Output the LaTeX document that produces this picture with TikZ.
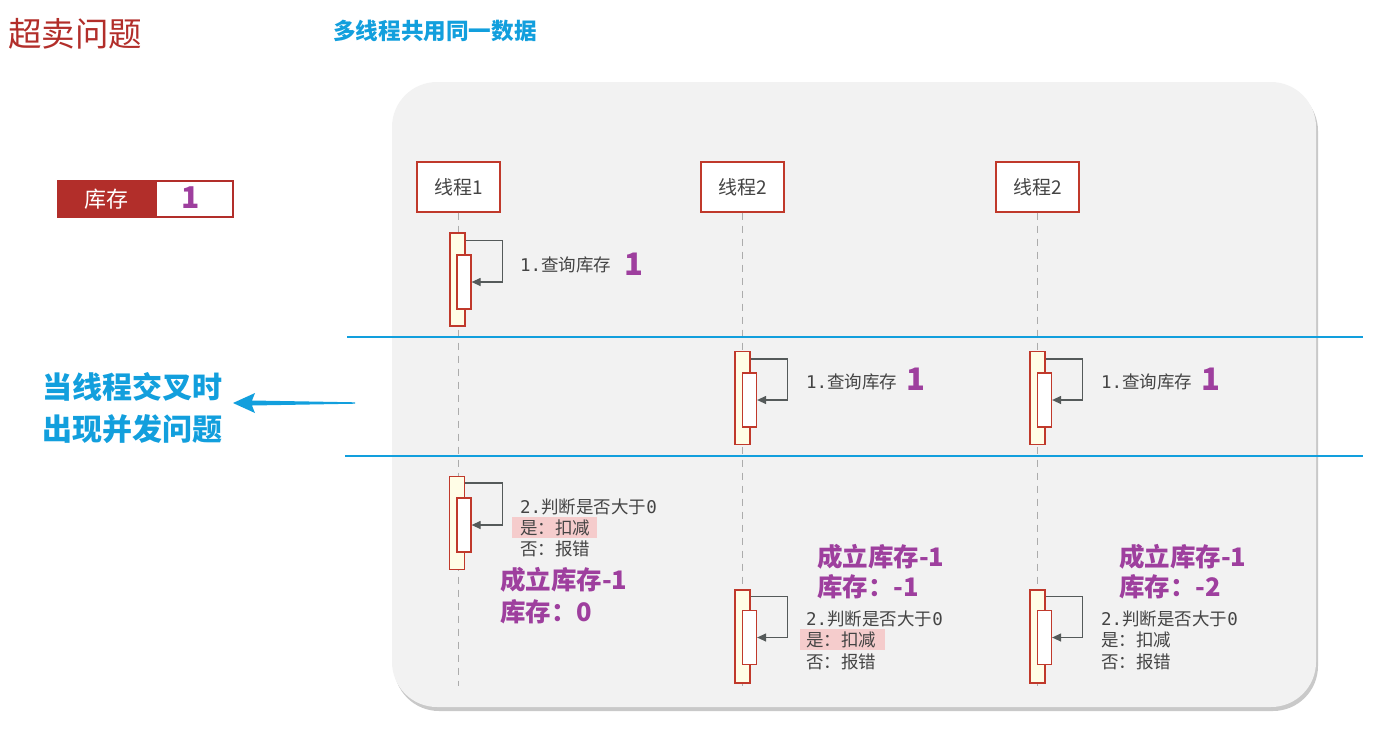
\documentclass[tikz,border=0pt]{standalone}
\usepackage{fontspec}
\setmainfont{Noto Sans CJK SC}
\newfontfamily\cjk{Noto Sans CJK SC}
\newfontfamily\monof{DejaVu Sans Mono}
\usetikzlibrary{shadows,calc,arrows.meta}
\definecolor{titlered}{HTML}{B22E2A}
\definecolor{hblue}{HTML}{129FDD}
\definecolor{linered}{HTML}{C0392B}
\definecolor{bggray}{HTML}{F2F2F2}
\definecolor{purp}{HTML}{9E3F9E}
\definecolor{txtgray}{HTML}{444444}
\definecolor{actyellow}{HTML}{FFFDE6}
\definecolor{hlpink}{HTML}{F5CCCC}
\definecolor{arrgray}{HTML}{555A5A}
\newcommand{\fs}[1]{\fontsize{#1}{#1}\selectfont}
\newcommand{\mytxt}[2]{{\monof #1}{\cjk #2}}
\begin{document}
\begin{tikzpicture}[x=1pt,y=-1pt,
  lifebox/.style={draw=linered,line width=1.3pt,fill=white,minimum width=83pt,minimum height=50pt,inner sep=0pt,font=\cjk\fs{19},text=txtgray},
  actout/.style={draw=linered,line width=1.2pt,fill=actyellow,minimum width=15pt,minimum height=93pt,inner sep=0pt},
  actin/.style={draw=linered,line width=1.2pt,fill=white,minimum width=14pt,minimum height=54pt,inner sep=0pt},
  selfarrow/.style={draw=arrgray,line width=1.2pt,-{Triangle[length=9pt,width=8pt]}},
  lifeline/.style={draw=gray!65,line width=1.4pt,dash pattern=on 7pt off 6pt},
  sepline/.style={draw=hblue,line width=1.5pt},
  msg/.style={anchor=west,inner sep=0pt,text=txtgray,font=\fs{17.5}},
  big/.style={anchor=west,inner sep=0pt,text=purp,font=\cjk\bfseries\fs{25.5}},
  bigone/.style={anchor=west,inner sep=0pt,text=purp,font=\cjk\bfseries\fs{31}},
  hl/.style={fill=hlpink,draw=none}
]
\useasboundingbox (0,0) rectangle (1393,729);
% titles
\node[anchor=west,inner sep=0pt,text=titlered,font=\cjk\fs{33.5}] (title) at (8,34) {超卖问题};
\node[anchor=west,inner sep=0pt,text=hblue,font=\cjk\bfseries\fs{22.6}] (sub) at (333,31) {多线程共用同一数据};
% stock box
\node[fill=titlered,draw=titlered,line width=1.2pt,minimum width=98pt,minimum height=37pt,inner sep=0pt,anchor=west,text=white,font=\cjk\fs{22}] (stk) at (57,199) {库存};
\node[fill=white,draw=titlered,line width=2pt,minimum width=77pt,minimum height=36pt,inner sep=0pt,anchor=west] (stkv) at (155,199) {};
\node[text=purp,font=\cjk\bfseries\fs{30},inner sep=0pt] (stkn) at (191,198) {1};
% background
\fill[bggray,rounded corners=45pt,drop shadow={shadow xshift=2pt,shadow yshift=-4pt,fill=gray!60,opacity=0.7}] (392,82) rectangle (1316,707);
% lifeline heads
\node[lifebox] (L1) at (458.5,187) {线程1};
\node[lifebox] (L2) at (742.5,187) {线程2};
\node[lifebox] (L3) at (1037.5,187) {线程2};
\coordinate (bot) at (0,686);
\draw[lifeline] (L1.south) -- (L1.south |- bot);
\draw[lifeline] (L2.south) -- (L2.south |- bot);
\draw[lifeline] (L3.south) -- (L3.south |- bot);
% separators
\coordinate (s1a) at (347,337); \coordinate (s1b) at (1363,337);
\coordinate (s2a) at (345,456); \coordinate (s2b) at (1363,456);
\draw[sepline] (s1a) -- (s1b);
\draw[sepline] (s2a) -- (s2b);
% section 1
\node[actout] (o1) at (457.5,279.5) {};
\node[actin] (i1) at (464,282) {};
\draw[selfarrow] ($(o1.north east)+(0,8)$) -- ++(37,0) |- (i1.east);
\node[msg] (m1) at (520,265) {\mytxt{1.}{查询库存}};
\node[bigone] (n1) at (624,264) {1};
% section 2
\node[actout] (o2) at (742.5,398) {};
\node[actin] (i2) at (749.5,400) {};
\draw[selfarrow] ($(o2.north east)+(0,8)$) -- ++(37,0) |- (i2.east);
\node[msg] (m2) at (806,382) {\mytxt{1.}{查询库存}};
\node[bigone] (n2) at (906,379) {1};
\node[actout] (o3) at (1037.5,398) {};
\node[actin] (i3) at (1044.5,400) {};
\draw[selfarrow] ($(o3.north east)+(0,8)$) -- ++(37,0) |- (i3.east);
\node[msg] (m3) at (1101,382) {\mytxt{1.}{查询库存}};
\node[bigone] (n3) at (1201,379) {1};
% left arrow and note
\coordinate (ta) at (233,403);
\fill[hblue] (ta) -- (255,393) -- (252,400.5) -- (355,402.3) -- (355,403.7) -- (252,405.5) -- (255,413) -- cycle;
\node[anchor=west,inner sep=0pt,text=hblue,font=\cjk\bfseries\fs{30},align=left] (note1) at (42,387) {当线程交叉时};
\node[anchor=west,inner sep=0pt,text=hblue,font=\cjk\bfseries\fs{30},align=left] (note2) at (42,429) {出现并发问题};
% section 3 lifeline 1
\node[actout] (o4) at (457,523) {};
\node[actin] (i4) at (464,525) {};
\draw[selfarrow] ($(o4.north east)+(0,7)$) -- ++(37,0) |- (i4.east);
\fill[hl] (512,517) rectangle (597,538);
\node[msg] (m4a) at (520,507) {\mytxt{2.}{判断是否大于}{\monof 0}};
\node[msg] (m4b) at (520,528) {\cjk 是：扣减};
\node[msg] (m4c) at (520,549) {\cjk 否：报错};
\node[big] (b4a) at (500,580) {成立库存-1};
\node[big] (b4b) at (500,612) {库存：0};
% section 3 lifeline 2
\node[actout] (o5) at (742.5,636.5) {};
\node[actin] (i5) at (749.5,637.5) {};
\draw[selfarrow] ($(o5.north east)+(0,7)$) -- ++(37,0) |- (i5.east);
\fill[hl] (800,629) rectangle (885,650);
\node[msg] (m5a) at (806,619) {\mytxt{2.}{判断是否大于}{\monof 0}};
\node[msg] (m5b) at (806,640) {\cjk 是：扣减};
\node[msg] (m5c) at (806,662) {\cjk 否：报错};
\node[big] (b5a) at (817,557) {成立库存-1};
\node[big] (b5b) at (817,587) {库存：-1};
% section 3 lifeline 3
\node[actout] (o6) at (1037.5,636.5) {};
\node[actin] (i6) at (1044.5,637.5) {};
\draw[selfarrow] ($(o6.north east)+(0,7)$) -- ++(37,0) |- (i6.east);
\node[msg] (m6a) at (1101,619) {\mytxt{2.}{判断是否大于}{\monof 0}};
\node[msg] (m6b) at (1101,640) {\cjk 是：扣减};
\node[msg] (m6c) at (1101,662) {\cjk 否：报错};
\node[big] (b6a) at (1119,557) {成立库存-1};
\node[big] (b6b) at (1119,587) {库存：-2};
\end{tikzpicture}
\end{document}
